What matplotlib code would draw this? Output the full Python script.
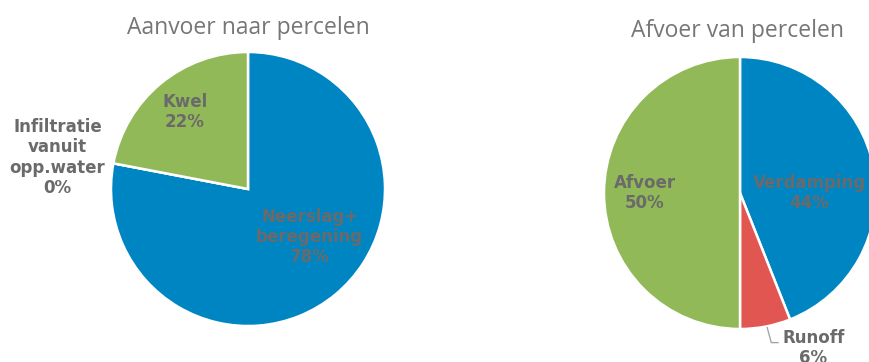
import matplotlib
matplotlib.use("Agg")
import matplotlib.pyplot as plt

# Water balance of the parcels (percent of total)
in_labels = ["Neerslag+\nberegening", "Infiltratie\nvanuit\nopp.water", "Kwel"]
in_values = [78, 0, 22]
in_colors = ["#0085C3", "#E15651", "#92B958"]

out_labels = ["Verdamping", "Runoff", "Afvoer"]
out_values = [44, 6, 50]
out_colors = ["#0085C3", "#E15651", "#92B958"]

W, H = 870, 362
fig = plt.figure(figsize=(W / 100, H / 100), dpi=100)

LABEL_COLOR = "#6a6a6a"
TITLE_COLOR = "#767676"


def pie_axes(cx, cy, r):
    ax = fig.add_axes([(cx - r) / W, (H - cy - r) / H, 2 * r / W, 2 * r / H])
    ax.set_xlim(-1, 1)
    ax.set_ylim(-1, 1)
    ax.axis("off")
    return ax


def label(ax, x, y, name, val):
    ax.text(x, y, f"{name}\n{val}%", ha="center", va="center", fontsize=12,
            fontweight="bold", color=LABEL_COLOR, linespacing=1.15,
            family="DejaVu Sans", clip_on=False)


# Left pie: supply
ax1 = pie_axes(248, 189, 137)
ax1.pie(in_values, colors=in_colors, startangle=90, counterclock=False, radius=1,
        wedgeprops=dict(edgecolor="white", linewidth=1.8))
ax1.set_xlim(-1, 1)
ax1.set_ylim(-1, 1)
label(ax1, 0.45, -0.35, in_labels[0], in_values[0])
label(ax1, -1.39, 0.23, in_labels[1], in_values[1])
label(ax1, -0.46, 0.56, in_labels[2], in_values[2])
fig.text(248 / W, 1 - 28 / H, "Aanvoer naar percelen", ha="center", va="center",
         fontsize=16.5, color=TITLE_COLOR, family="Open Sans")

# Right pie: discharge
ax2 = pie_axes(740, 193, 136)
ax2.pie(out_values, colors=out_colors, startangle=90, counterclock=False, radius=1,
        wedgeprops=dict(edgecolor="white", linewidth=1.8))
ax2.set_xlim(-1, 1)
ax2.set_ylim(-1, 1)
label(ax2, 0.51, 0.0, out_labels[0], out_values[0])
label(ax2, 0.54, -1.14, out_labels[1], out_values[1])
label(ax2, -0.70, 0.0, out_labels[2], out_values[2])
ax2.plot([0.20, 0.23, 0.28], [-0.99, -1.10, -1.10], color="#a6a6a6", lw=1,
         clip_on=False)
fig.text(738 / W, 1 - 31 / H, "Afvoer van percelen", ha="center", va="center",
         fontsize=16.5, color=TITLE_COLOR, family="Open Sans")

fig.savefig("out.png", dpi=100, facecolor="white")
